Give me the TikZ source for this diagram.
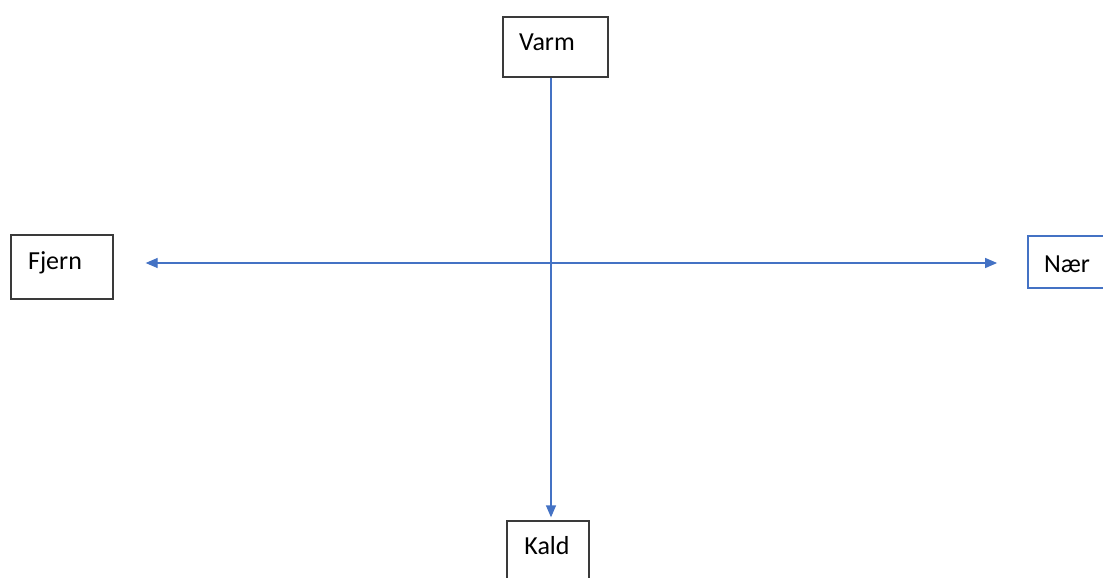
\documentclass[tikz,border=0pt]{standalone}
\usepackage{fontspec}
\setmainfont{Carlito}
\usetikzlibrary{arrows.meta}
\definecolor{axisblue}{HTML}{4472C4}
\definecolor{boxgray}{HTML}{3A3A3A}
\tikzset{
  box/.style={draw=boxgray, line width=1.3pt, fill=white, inner sep=0pt},
  bluebox/.style={draw=axisblue, line width=1.8pt, fill=white, inner sep=0pt},
  lbl/.style={inner sep=0pt, anchor=base, font=\fontsize{26}{30}\selectfont, text=black},
  axis/.style={draw=axisblue, line width=1.3pt, -{Triangle[length=12pt,width=10pt]}},
  axis2/.style={draw=axisblue, line width=1.3pt, {Triangle[length=12pt,width=10pt]}-{Triangle[length=12pt,width=10pt]}},
}
\begin{document}
\begin{tikzpicture}[x=1pt,y=-1pt]
\useasboundingbox (0,0) rectangle (1103,578);
\begin{scope}
\clip (0,0) rectangle (1103,578);
\node[box, minimum width=105pt, minimum height=60pt] (varm) at (555.5,47) {};
\node[box, minimum width=102pt, minimum height=64pt] (fjern) at (62,267) {};
\node[bluebox, minimum width=102pt, minimum height=52pt] (naer) at (1079,262) {};
\node[box, minimum width=82pt, minimum height=64pt] (kald) at (548,553) {};
\end{scope}
\node[lbl] (tvarm) at (547,50.5) {Varm};
\node[lbl] (tfjern) at (55,269.5) {Fjern};
\node[lbl] (tnaer) at (1067,272) {Nær};
\node[lbl] (tkald) at (547,554) {Kald};
\draw[axis, shorten >=3pt] (varm.south -| 551,0) -- (kald.north -| 551,0);
\draw[axis2, shorten <=32pt, shorten >=30pt] (fjern.east |- 0,263) -- (naer.west |- 0,263);
\end{tikzpicture}
\end{document}
